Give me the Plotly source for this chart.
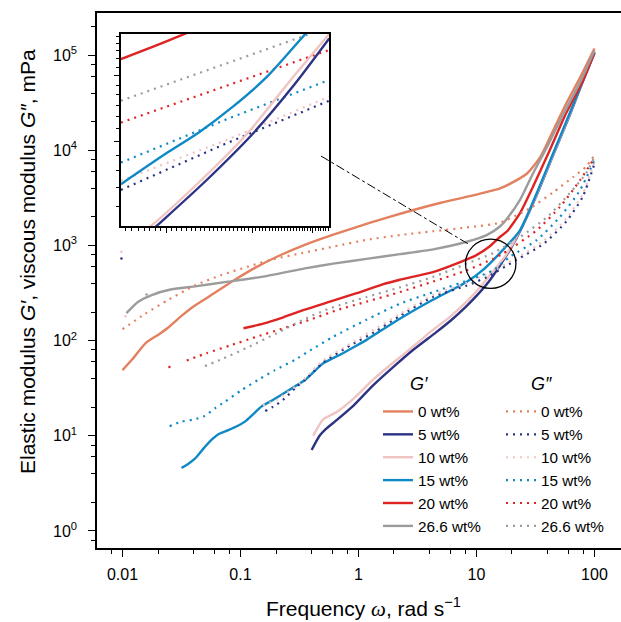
import plotly.graph_objects as go

# ---------------- data: frequency (rad/s) and modulus (mPa) ----------------
# storage modulus G'
w_Gp_0 = [0.01, 0.012, 0.0158, 0.02, 0.024, 0.0316, 0.04, 0.055, 0.087, 0.135, 0.21, 0.355,
          0.63, 1.26, 2.5, 5.0, 10, 15.8, 19, 27, 34.7, 44.7, 57.5, 75.9, 100]
Gp_0 = [49, 63, 95, 115, 135, 182, 229, 295, 427, 589, 776, 1023,
        1318, 1738, 2239, 2818, 3428, 3981, 4416, 5754, 8511, 16218, 30903, 58884, 117490]

w_Gp_5 = [0.401, 0.468, 0.525, 0.661, 0.912, 1.33, 2.0, 2.88, 4.57, 6.03, 8.32, 10.7, 12.9,
          15.8, 19.1, 23.4, 32.4, 44.7, 61.7, 79.4, 100]
Gp_5 = [7.1, 10, 11.7, 14.8, 20.9, 33.9, 53.7, 79.4, 123, 162, 234, 324, 427,
        617, 891, 1413, 3388, 8913, 23442, 52481, 104713]

w_Gp_10 = [0.414, 0.5, 0.653, 0.904, 1.33, 2.11, 3.11, 4.04, 5.96, 8.26, 10.7, 13.9, 17.8,
           23.4, 32.4, 44.7, 61.7, 79.4, 100]
Gp_10 = [10, 14.8, 17.8, 24.5, 38.9, 63, 93, 123, 178, 257, 363, 540, 794,
         1445, 3467, 9120, 23988, 53703, 107152]

w_Gp_15 = [0.0316, 0.0355, 0.0411, 0.0479, 0.057, 0.066, 0.0789, 0.0933, 0.109, 0.129, 0.151,
           0.178, 0.209, 0.29, 0.355, 0.5, 0.71, 0.966, 1.17, 2.24, 4.27, 8.3, 11.5, 15.8,
           23.4, 32.4, 44.7, 61.7, 80.4, 100]
Gp_15 = [4.6, 5.0, 5.75, 7.2, 9.1, 10.5, 11.5, 12.6, 14.1, 17.0, 20.4,
         22.9, 25.7, 33.1, 38.9, 57.5, 72, 89, 102, 170, 269, 417, 562, 832,
         1445, 3548, 9333, 24547, 54954, 107152]

w_Gp_20 = [0.106, 0.156, 0.231, 0.34, 0.573, 0.966, 1.58, 2.24, 4.27, 6.76, 10, 12.9, 15.8,
           18.2, 23.4, 30.2, 41.7, 57.5, 80.4, 100]
Gp_20 = [135, 151, 176, 209, 257, 316, 389, 437, 525, 646, 794, 977, 1230,
         1413, 2188, 4169, 10000, 24547, 54954, 107152]

w_Gp_266 = [0.0108, 0.0136, 0.0177, 0.0261, 0.0411, 0.0789, 0.151, 0.352, 0.611, 1.17, 2.25,
            4.31, 8.26, 12.2, 15.8, 18.2, 23.4, 30.2, 39.8, 55, 75.9, 100]
Gp_266 = [195, 257, 302, 347, 372, 417, 468, 575, 646, 724, 813,
          912, 1096, 1288, 1585, 1928, 3020, 5754, 10965, 24547, 52481, 112202]

# loss modulus G''
w_Gpp_0 = [0.01, 0.0155, 0.0245, 0.041, 0.069, 0.117, 0.195, 0.33, 0.62, 1.17, 2.24, 4.27,
           8.3, 15.8, 28.2, 44.7, 66, 85, 100]
Gpp_0 = [132, 191, 269, 380, 490, 603, 724, 832, 977, 1148, 1288, 1413,
         1549, 1738, 2455, 3631, 5248, 6761, 8913]

w_Gpp_5 = [0.162, 0.204, 0.245, 0.302, 0.355, 0.5, 0.851, 1.41, 2.24, 4.27, 8.32, 12.3,
           21.9, 37.2, 57.5, 79.4, 100]
Gpp_5 = [18.2, 21.4, 25.7, 33.1, 38.9, 58.9, 89, 126, 182, 288, 380, 468,
         708, 1047, 1778, 3236, 7244]

w_Gpp_10 = [0.155, 0.204, 0.251, 0.316, 0.355, 0.5, 0.851, 1.41, 2.24, 4.27, 8.32, 12.3,
            21.9, 37.2, 57.5, 79.4, 100]
Gpp_10 = [20.9, 24, 28.8, 35.5, 40.7, 61.7, 93, 135, 191, 302, 407, 501,
          741, 1122, 1905, 3467, 7586]

w_Gpp_15 = [0.0251, 0.0316, 0.0398, 0.05, 0.0608, 0.074, 0.102, 0.142, 0.196, 0.29, 0.389,
            0.611, 1.17, 2.25, 4.31, 9.4, 13.9, 19.2, 32.4, 51, 75.4, 100]
Gpp_15 = [12.6, 14.1, 14.8, 16.2, 19.5, 22.9, 30.2, 38.9, 49, 63, 79,
          110, 166, 245, 324, 451, 552, 760, 1140, 1995, 3802, 7943]

w_Gpp_20 = [0.035, 0.0518, 0.0815, 0.137, 0.231, 0.388, 0.653, 1.17, 2.24, 4.27, 8.3, 13.8,
            17, 32.4, 51.3, 75.9, 100]
Gpp_20 = [62, 74, 89, 110, 135, 166, 209, 257, 324, 417, 550, 724,
          832, 1445, 2570, 4898, 8318]

w_Gpp_266 = [0.05, 0.0714, 0.12, 0.203, 0.34, 0.573, 1.17, 2.24, 4.27, 8.3, 13.8, 23.4,
             39.8, 61.7, 85, 100]
Gpp_266 = [54, 65, 87, 120, 166, 219, 288, 363, 468, 646, 832, 1230,
           1995, 3548, 5754, 8511]

# isolated first readings
stray_w = [0.0098, 0.0098, 0.0106, 0.016, 0.025]
stray_G = [860, 730, 181, 306, 53]
stray_conc = ["10", "5", "10", "26.6", "20"]

# magnified crossover window (inset)
zoom_w = [8.07, 21.6]
zoom_G = [354, 1167]

ins_w_Gp_5 = [9.12, 9.55, 12.0, 15.1, 18.2, 21.6]
ins_Gp_5 = [335, 354, 466, 631, 843, 1135]
ins_w_Gp_10 = [8.9, 9.3, 11.7, 14.7, 17.8, 21.6]
ins_Gp_10 = [339, 354, 466, 631, 861, 1167]
ins_w_Gp_15 = [8.07, 10.0, 11.7, 13.7, 16.1, 19.3, 20.4]
ins_Gp_15 = [459, 556, 635, 743, 895, 1167, 1259]
ins_w_Gp_20 = [8.07, 9.4, 10.9, 11.5]
ins_Gp_20 = [998, 1079, 1167, 1202]
ins_w_Gpp_5 = [8.07, 13.3, 21.6]
ins_Gpp_5 = [443, 592, 771]
ins_w_Gpp_10 = [8.07, 13.3, 21.6]
ins_Gpp_10 = [469, 604, 791]
ins_w_Gpp_15 = [8.07, 13.3, 21.6]
ins_Gpp_15 = [525, 687, 877]
ins_w_Gpp_20 = [8.07, 13.3, 21.6]
ins_Gpp_20 = [673, 845, 1057]
ins_w_Gpp_266 = [8.07, 12.7, 19.7, 21.6]
ins_Gpp_266 = [771, 953, 1167, 1211]

concentrations = ["0", "5", "10", "15", "20", "26.6"]
colors = {"0": "#E3805F", "5": "#2D3383", "10": "#F0C4C3", "15": "#0E89C5",
          "20": "#DE2323", "26.6": "#9C9C9C"}

storage = {"0": (w_Gp_0, Gp_0), "5": (w_Gp_5, Gp_5), "10": (w_Gp_10, Gp_10),
           "15": (w_Gp_15, Gp_15), "20": (w_Gp_20, Gp_20), "26.6": (w_Gp_266, Gp_266)}
loss = {"0": (w_Gpp_0, Gpp_0), "5": (w_Gpp_5, Gpp_5), "10": (w_Gpp_10, Gpp_10),
        "15": (w_Gpp_15, Gpp_15), "20": (w_Gpp_20, Gpp_20), "26.6": (w_Gpp_266, Gpp_266)}
inset_storage = {"5": (ins_w_Gp_5, ins_Gp_5), "10": (ins_w_Gp_10, ins_Gp_10),
                 "15": (ins_w_Gp_15, ins_Gp_15), "20": (ins_w_Gp_20, ins_Gp_20)}
inset_loss = {"5": (ins_w_Gpp_5, ins_Gpp_5), "10": (ins_w_Gpp_10, ins_Gpp_10),
              "15": (ins_w_Gpp_15, ins_Gpp_15), "20": (ins_w_Gpp_20, ins_Gpp_20),
              "26.6": (ins_w_Gpp_266, ins_Gpp_266)}

# ---------------- page geometry ----------------
W, H = 621, 622
ML, MR, MT, MB = 97, 0, 13, 74
FONT = "Liberation Sans, Arial, sans-serif"
DOT = "2px,5px"


def paper(x, y):
    """pixel position on the page -> paper coordinates"""
    return (x - ML) / (W - ML - MR), 1 - (y - MT) / (H - MT - MB)


fig = go.Figure()

for c in concentrations:
    w, g = storage[c]
    fig.add_trace(go.Scatter(
        x=w, y=g, mode="lines", name=f"{c} wt%", legend="legend",
        line=dict(color=colors[c], width=2.4, shape="spline", smoothing=0.6)))
for c in concentrations:
    w, g = loss[c]
    fig.add_trace(go.Scatter(
        x=w, y=g, mode="lines", name=f"{c} wt%", legend="legend2",
        line=dict(color=colors[c], width=2.2, dash=DOT, shape="spline", smoothing=0.6)))

fig.add_trace(go.Scatter(
    x=stray_w, y=stray_G, mode="markers", showlegend=False,
    marker=dict(size=2.5, color=[colors[c] for c in stray_conc])))

# inset traces
for c, (w, g) in inset_loss.items():
    fig.add_trace(go.Scatter(
        x=w, y=g, mode="lines", showlegend=False, xaxis="x2", yaxis="y2",
        line=dict(color=colors[c], width=2.2, dash=DOT)))
for c in ["10", "5", "15", "20"]:
    w, g = inset_storage[c]
    fig.add_trace(go.Scatter(
        x=w, y=g, mode="lines", showlegend=False, xaxis="x2", yaxis="y2",
        line=dict(color=colors[c], width=2.4, shape="spline", smoothing=0.8)))

# ---------------- axes ----------------
decades_x = [0.01, 0.1, 1, 10, 100]
minor_x = [m * d for d in [0.001, 0.01, 0.1, 1, 10, 100] for m in (2, 4, 6, 8)]
decades_y = [1, 10, 100, 1000, 10000, 100000]
minor_y = [m * d for d in [0.1, 1, 10, 100, 1000, 10000, 100000] for m in (2, 4, 6, 8)]

axis_common = dict(showgrid=False, zeroline=False, showline=True, linecolor="black",
                   linewidth=1.5, ticks="outside", ticklen=7, tickwidth=1.3,
                   tickcolor="black", tickfont=dict(family=FONT, size=16, color="black"))

fig.update_layout(
    xaxis=dict(type="log", range=[-2.216, 2.225], domain=[0, 1], mirror=True,
               tickvals=decades_x, ticktext=["0.01", "0.1", "1", "10", "100"],
               ticklabelstandoff=4,
               minor=dict(tickvals=minor_x, ticks="outside", ticklen=4, tickwidth=1.1,
                          tickcolor="black", showgrid=False),
               **axis_common),
    yaxis=dict(type="log", range=[-0.179, 5.444], domain=[0, 1], mirror=False,
               tickvals=decades_y,
               ticktext=[f"10<sup>{k}</sup>" for k in range(6)],
               ticklabelstandoff=8,
               minor=dict(tickvals=minor_y, ticks="outside", ticklen=4, tickwidth=1.1,
                          tickcolor="black", showgrid=False),
               **axis_common),
)

ix0, iy0 = paper(121, 226)
ix1, iy1 = paper(329, 34)
inset_minor_x = [8.25 + 0.25 * k for k in range(54)]
inset_minor_y = [400 + 50 * k for k in range(16)]
fig.update_layout(
    xaxis2=dict(type="log", range=[0.907, 1.334], domain=[ix0, ix1], anchor="y2",
                showgrid=False, zeroline=False, showline=True, mirror=True,
                linecolor="black", linewidth=1.5, ticks="outside", ticklen=5,
                tickwidth=1, tickcolor="black", tickvals=[10, 15, 20],
                showticklabels=False,
                minor=dict(tickvals=inset_minor_x, ticks="outside", ticklen=3,
                           tickwidth=1, tickcolor="black")),
    yaxis2=dict(type="log", range=[2.549, 3.067], domain=[iy0, iy1], anchor="x2",
                showgrid=False, zeroline=False, showline=True, mirror=True,
                linecolor="black", linewidth=1.5, ticks="outside", ticklen=5,
                tickwidth=1, tickcolor="black", tickvals=[600, 900],
                showticklabels=False,
                minor=dict(tickvals=inset_minor_y, ticks="outside", ticklen=3,
                           tickwidth=1, tickcolor="black")),
)

# circle marking the magnified window, plus the leader line to the inset
fig.add_shape(type="circle", xref="x", yref="y", x0=zoom_w[0], x1=zoom_w[1],
              y0=zoom_G[0], y1=zoom_G[1], line=dict(color="black", width=1.3))
lx0, ly0 = paper(321, 156)
lx1, ly1 = paper(470, 245)
fig.add_shape(type="line", xref="paper", yref="paper", x0=lx0, y0=ly0, x1=lx1, y1=ly1,
              line=dict(color="black", width=1, dash="dashdot"))

# ---------------- titles ----------------
tx, ty = paper(363, 607)
fig.add_annotation(text="Frequency <i><span style='font-family:Liberation Serif'>ω</span></i>, rad s<sup>−1</sup>",
                   xref="paper", yref="paper", x=tx, y=ty, showarrow=False,
                   xanchor="center", yanchor="middle",
                   font=dict(family=FONT, size=21, color="black"))
yx, yy = paper(27, 262)
fig.add_annotation(text="Elastic modulus <i>G′</i>, viscous modulus <i>G″</i>, mPa",
                   xref="paper", yref="paper", x=yx, y=yy, showarrow=False,
                   textangle=-90, xanchor="center", yanchor="middle",
                   font=dict(family=FONT, size=21, color="black"))
for label, (hx, hy) in [("<i>G′</i>", (419, 384)), ("<i>G″</i>", (541, 384))]:
    ax_, ay_ = paper(hx, hy)
    fig.add_annotation(text=label, xref="paper", yref="paper", x=ax_, y=ay_,
                       showarrow=False, xanchor="center", yanchor="middle",
                       font=dict(family=FONT, size=18, color="black"))

# ---------------- legends ----------------
g1x, g1y = paper(378, 395)
g2x, g2y = paper(501, 395)
legend_style = dict(bgcolor="rgba(0,0,0,0)", borderwidth=0, xanchor="left", yanchor="top",
                    font=dict(family=FONT, size=15.3, color="black"), tracegroupgap=0,
                    itemwidth=30)
fig.update_layout(
    legend=dict(x=g1x, y=g1y, **legend_style),
    legend2=dict(x=g2x, y=g2y, **legend_style),
)

fig.update_layout(
    width=W, height=H, margin=dict(l=ML, r=MR, t=MT, b=MB),
    paper_bgcolor="white", plot_bgcolor="white",
    font=dict(family=FONT, color="black"),
)

fig.write_html("out.html")
